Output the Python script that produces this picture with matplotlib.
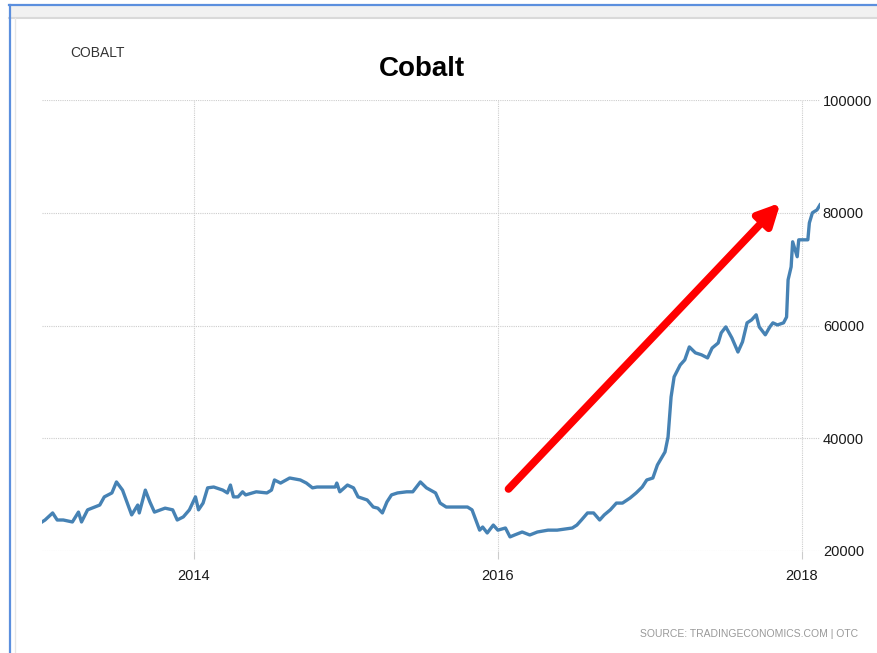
import matplotlib.pyplot as plt
from matplotlib.lines import Line2D
from matplotlib.patches import Rectangle

# cobalt price (USD/t)
years = [2013.00, 2013.02, 2013.07, 2013.10, 2013.14, 2013.20, 2013.24, 2013.26, 2013.30,
         2013.38, 2013.41, 2013.46, 2013.49, 2013.53, 2013.59, 2013.63, 2013.64, 2013.68,
         2013.71, 2013.74, 2013.81, 2013.86, 2013.89, 2013.93, 2013.97, 2014.01, 2014.03,
         2014.06, 2014.09, 2014.13, 2014.19, 2014.22, 2014.24, 2014.26, 2014.29, 2014.32,
         2014.34, 2014.41, 2014.48, 2014.51, 2014.53, 2014.57, 2014.63, 2014.70, 2014.74,
         2014.78, 2014.81, 2014.93, 2014.94, 2014.96, 2015.01, 2015.05, 2015.08, 2015.14,
         2015.18, 2015.21, 2015.24, 2015.27, 2015.30, 2015.34, 2015.40, 2015.44, 2015.49,
         2015.53, 2015.59, 2015.62, 2015.66, 2015.70, 2015.80, 2015.83, 2015.85, 2015.88,
         2015.90, 2015.93, 2015.97, 2016.00, 2016.05, 2016.08, 2016.11, 2016.16, 2016.21,
         2016.26, 2016.33, 2016.39, 2016.49, 2016.52, 2016.55, 2016.59, 2016.63, 2016.67,
         2016.70, 2016.74, 2016.78, 2016.82, 2016.87, 2016.91, 2016.95, 2016.98, 2017.02,
         2017.05, 2017.10, 2017.12, 2017.14, 2017.16, 2017.20, 2017.23, 2017.26, 2017.30,
         2017.34, 2017.38, 2017.41, 2017.45, 2017.47, 2017.50, 2017.54, 2017.58, 2017.61,
         2017.64, 2017.67, 2017.70, 2017.72, 2017.76, 2017.79, 2017.81, 2017.84, 2017.88,
         2017.90, 2017.91, 2017.93, 2017.94, 2017.97, 2017.98, 2018.01, 2018.04, 2018.05,
         2018.07, 2018.10, 2018.12]
prices = [25150, 25500, 26750, 25500, 25500, 25150, 26900, 25150, 27300,
          28150, 29600, 30300, 32250, 30800, 26400, 28150, 26750, 30800,
          28700, 26900, 27600, 27300, 25500, 26050, 27300, 29600, 27300,
          28500, 31200, 31350, 30800, 30300, 31700, 29600, 29600, 30500,
          29950, 30500, 30300, 30800, 32600, 32050, 32950, 32600, 32050,
          31200, 31350, 31350, 32050, 30500, 31700, 31200, 29600, 29050,
          27800, 27600, 26750, 28700, 29950, 30300, 30500, 30500, 32250,
          31200, 30300, 28500, 27800, 27800, 27800, 27300, 25860, 23700,
          24250, 23200, 24600, 23700, 24080, 22500, 22840, 23370, 22840,
          23370, 23700, 23700, 24080, 24600, 25500, 26750, 26750, 25500,
          26400, 27300, 28500, 28500, 29400, 30300, 31350, 32600, 32950,
          35260, 37570, 40230, 47330, 50890, 53000, 53900, 56200, 55150,
          54800, 54250, 56000, 56900, 58700, 59750, 57800, 55300, 57100,
          60470, 61000, 61900, 59750, 58350, 59750, 60470, 60100, 60470,
          61500, 68100, 70400, 74850, 72200, 75200, 75200, 75200, 78200,
          80000, 80500, 81400]

x_ticks = [2014, 2016, 2018]
y_ticks = [20000, 40000, 60000, 80000, 100000]
arrow_start = (2016.07, 31000)
arrow_end = (2017.86, 81770)

sans = ['Liberation Sans', 'DejaVu Sans']

fig = plt.figure(figsize=(8.77, 6.53), dpi=100)
W, H = 877, 653

# page frame: blue border, grey strip on top
fig.add_artist(Rectangle((9 / W, 1 - 18 / H), 1, 13 / H, transform=fig.transFigure,
                         facecolor='#f1f1f1', edgecolor='none'))
fig.add_artist(Line2D([9 / W, 1], [1 - 18 / H, 1 - 18 / H], transform=fig.transFigure,
                      color='#d9d9d9', lw=1.5))
fig.add_artist(Line2D([9 / W, 1], [1 - 4.5 / H, 1 - 4.5 / H], transform=fig.transFigure,
                      color='#5b8fde', lw=1.6))
fig.add_artist(Line2D([9.5 / W, 9.5 / W], [0, 1 - 4.5 / H], transform=fig.transFigure,
                      color='#5b8fde', lw=1.6))
fig.add_artist(Line2D([15 / W, 15 / W], [0, 1 - 18 / H], transform=fig.transFigure,
                      color='#e6e6e6', lw=1))

ax = fig.add_axes([42 / W, 1 - 551 / H, (820 - 42) / W, (551 - 100) / H])
ax.plot(years, prices, color='#4682b4', lw=2.4, solid_joinstyle='round')

ax.set_xlim(2013.0, 2018.12)
ax.set_ylim(20000, 100000)
ax.set_xticks(x_ticks)
ax.set_xticklabels([str(t) for t in x_ticks], fontfamily=sans, fontsize=10.5, color='#1a1a1a')
ax.set_yticks(y_ticks)
ax.set_yticklabels([str(t) for t in y_ticks], fontfamily=sans, fontsize=10.5, color='#1a1a1a')
ax.yaxis.tick_right()
ax.tick_params(axis='y', length=0, pad=2)
ax.tick_params(axis='x', length=6, color='#cccccc', pad=7, width=0.8)
ax.grid(True, color='#cdcdcd', linestyle=(0, (1, 1)), lw=0.8)
for s in ax.spines.values():
    s.set_visible(False)

ax.annotate('', xy=arrow_end, xytext=arrow_start,
            arrowprops=dict(arrowstyle='-|>,head_length=1.3,head_width=0.65',
                            color='#ff0000', lw=5.5, shrinkA=0, shrinkB=0))

fig.text(70 / W, 1 - 53 / H, 'COBALT', fontfamily=sans, fontsize=10,
         color='#333333', va='center', ha='left')
fig.text(422 / W, 1 - 69 / H, 'Cobalt', fontfamily=sans,
         fontsize=20, fontweight='bold', color='black', ha='center', va='center')
fig.text(858 / W, 1 - 634 / H, 'SOURCE: TRADINGECONOMICS.COM | OTC', fontfamily=sans,
         fontsize=7.5, color='#999999', ha='right', va='center')

fig.savefig('out.png', dpi=100)
